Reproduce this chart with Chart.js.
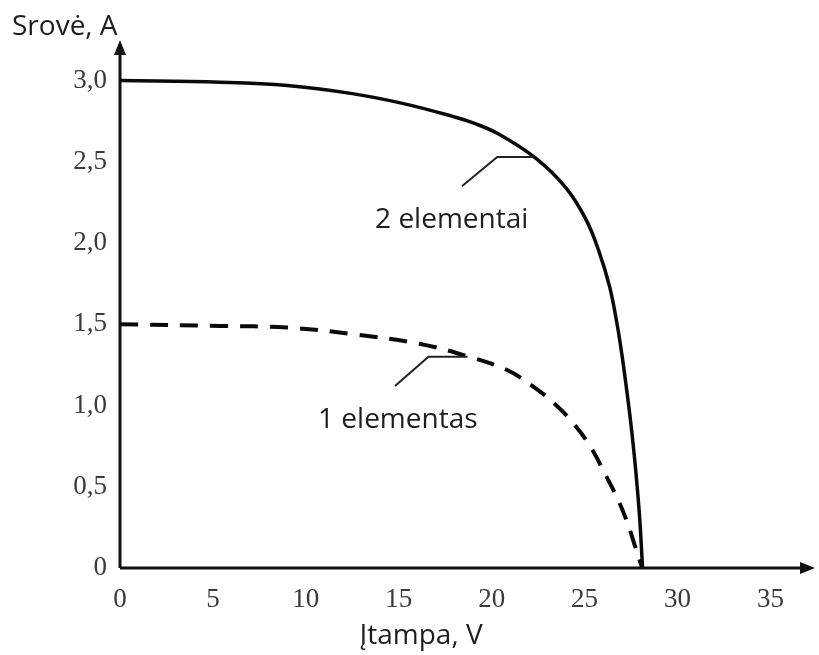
<!DOCTYPE html>
<html>
<head>
<meta charset="utf-8">
<script src="https://cdn.jsdelivr.net/npm/chart.js@4.4.1/dist/chart.umd.min.js"></script>
<style>
  html, body { margin: 0; padding: 0; background: #fff; }
  #wrap { width: 819px; height: 655px; }
</style>
</head>
<body>
<div id="wrap"><canvas id="iv-chart"></canvas></div>
<script>
// I-V kreives: 2 elementai (istisine) ir 1 elementas (punktyrine)
const voltage2 = [0, 5.4, 9, 12.5, 15.2, 17.9, 19, 20.4, 22.4, 24, 25.1, 25.8, 26.35, 26.72, 27, 27.25, 27.47, 27.66, 27.83, 27.97, 28.12];
const current2 = [3.0, 2.99, 2.97, 2.92, 2.86, 2.78, 2.74, 2.67, 2.52, 2.34, 2.14, 1.94, 1.73, 1.52, 1.32, 1.11, 0.91, 0.71, 0.5, 0.3, 0];

const voltage1 = [0, 5.4, 9, 12.5, 16.1, 18.8, 20.8, 22.2, 23.4, 24.4, 25.3, 26.1, 26.8, 27.3, 27.7, 28.1];
const current1 = [1.5, 1.49, 1.48, 1.44, 1.38, 1.3, 1.22, 1.12, 1.01, 0.89, 0.75, 0.58, 0.42, 0.28, 0.14, 0];

const xTicks = [0, 5, 10, 15, 20, 25, 30, 35];
const yTicks = [0, 0.5, 1.0, 1.5, 2.0, 2.5, 3.0];

const seriesNames = ['2 elementai', '1 elementas'];
const yTitle = 'Srovė, A';
const xTitle = 'Įtampa, V';

// leader lines for the labels, in data units
const leader2 = [[18.4, 2.35], [20.3, 2.53], [22.3, 2.53]];
const leader1 = [[14.8, 1.12], [16.6, 1.3], [18.7, 1.3]];
const label2At = [17.85, 2.14];
const label1At = [14.95, 0.91];

function zip(xs, ys) {
    return xs.map((x, i) => ({ x: x, y: ys[i] }));
}

const decor = {
    id: 'decor',
    afterDraw(chart) {
        const ctx = chart.ctx;
        const area = chart.chartArea;
        const xs = chart.scales.x;
        const ys = chart.scales.y;
        const x0 = xs.getPixelForValue(0);
        const y0 = ys.getPixelForValue(0);

        ctx.save();
        // axes with arrows
        ctx.strokeStyle = '#111';
        ctx.fillStyle = '#111';
        ctx.lineWidth = 3;
        ctx.beginPath();
        ctx.moveTo(x0, y0);
        ctx.lineTo(x0, area.top + 8);
        ctx.moveTo(x0, y0);
        ctx.lineTo(area.right - 8, y0);
        ctx.stroke();

        ctx.beginPath();
        ctx.moveTo(x0, area.top);
        ctx.lineTo(x0 - 6, area.top + 15);
        ctx.lineTo(x0 + 6, area.top + 15);
        ctx.closePath();
        ctx.fill();

        ctx.beginPath();
        ctx.moveTo(area.right, y0);
        ctx.lineTo(area.right - 15, y0 - 6);
        ctx.lineTo(area.right - 15, y0 + 6);
        ctx.closePath();
        ctx.fill();

        // leader lines
        ctx.strokeStyle = '#222';
        ctx.lineWidth = 2;
        [leader2, leader1].forEach(pts => {
            ctx.beginPath();
            pts.forEach((p, i) => {
                const px = xs.getPixelForValue(p[0]);
                const py = ys.getPixelForValue(p[1]);
                if (i === 0) ctx.moveTo(px, py); else ctx.lineTo(px, py);
            });
            ctx.stroke();
        });

        // series labels
        ctx.fillStyle = '#1e1e1e';
        ctx.font = '28px "Open Sans"';
        ctx.textAlign = 'center';
        ctx.textBaseline = 'middle';
        ctx.fillText(seriesNames[0], xs.getPixelForValue(label2At[0]), ys.getPixelForValue(label2At[1]));
        ctx.fillText(seriesNames[1], xs.getPixelForValue(label1At[0]), ys.getPixelForValue(label1At[1]));

        // axis titles
        ctx.textAlign = 'left';
        ctx.fillText(yTitle, 12, 27);
        ctx.textAlign = 'center';
        ctx.fillText(xTitle, 421, 636);
        ctx.restore();
    }
};

const ctx = document.getElementById('iv-chart').getContext('2d');

new Chart(ctx, {
    type: 'scatter',
    data: {
        datasets: [{
            label: seriesNames[0],
            data: zip(voltage2, current2),
            showLine: true,
            borderColor: '#0a0a0a',
            borderWidth: 3.5,
            pointRadius: 0,
            tension: 0.4
        }, {
            label: seriesNames[1],
            data: zip(voltage1, current1),
            showLine: true,
            borderColor: '#0a0a0a',
            borderWidth: 4,
            borderDash: [18, 12],
            pointRadius: 0,
            tension: 0.4
        }]
    },
    options: {
        responsive: true,
        maintainAspectRatio: false,
        animation: false,
        layout: {
            padding: { top: 40, right: 4, left: 0, bottom: 0 }
        },
        scales: {
            x: {
                type: 'linear',
                min: 0,
                max: 37.4,
                grid: { display: false },
                border: { display: false },
                afterFit: (scale) => { scale.height = 87; },
                afterBuildTicks: (scale) => { scale.ticks = xTicks.map(v => ({ value: v })); },
                ticks: {
                    padding: 8,
                    color: '#3a3a3a',
                    font: { family: '"Liberation Serif"', size: 27 },
                    maxRotation: 0,
                    callback: (v) => String(v)
                }
            },
            y: {
                type: 'linear',
                min: 0,
                max: 3.25,
                grid: { display: false },
                border: { display: false },
                afterFit: (scale) => { scale.width = 120; },
                afterBuildTicks: (scale) => { scale.ticks = yTicks.map(v => ({ value: v })); },
                ticks: {
                    padding: 5,
                    color: '#3a3a3a',
                    font: { family: '"Liberation Serif"', size: 27 },
                    callback: (v) => v === 0 ? '0' : v.toFixed(1).replace('.', ',')
                }
            }
        },
        plugins: {
            legend: { display: false },
            tooltip: { enabled: false }
        }
    },
    plugins: [decor]
});
</script>
</body>
</html>
